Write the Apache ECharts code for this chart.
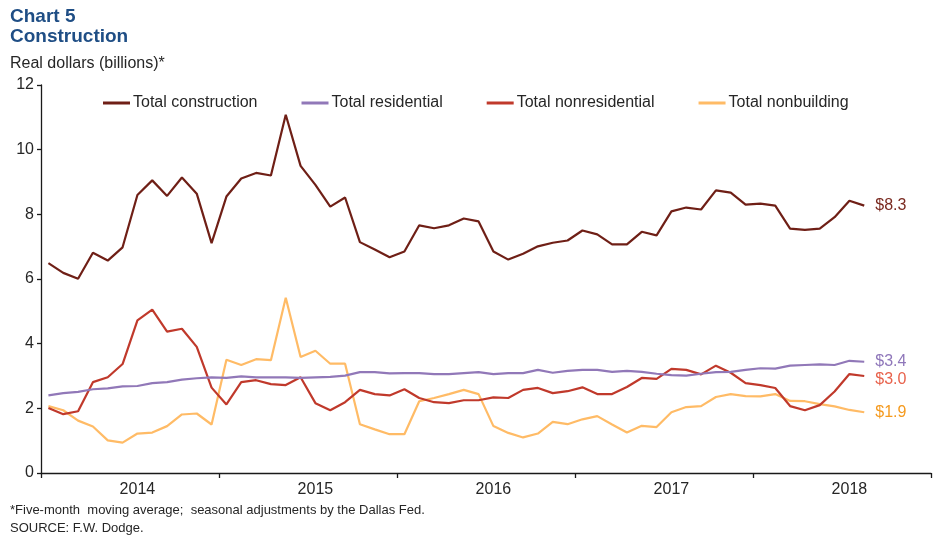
<!DOCTYPE html>
<html>
<head>
<meta charset="utf-8">
<script src="https://cdn.jsdelivr.net/npm/echarts@6/dist/echarts.min.js"></script>
<style>
html,body{margin:0;padding:0;background:#fff;}
#chart{width:949px;height:541px;}
</style>
</head>
<body>
<div id="chart"></div>
<script>
// Monthly slots (5 years x 12 months); data covers the first 56
const years = [2014, 2015, 2016, 2017, 2018];
const months = [];
years.forEach(y => { for (let m = 1; m <= 12; m++) months.push(y + '-' + (m < 10 ? '0' + m : m)); });

const totalConstruction = [6.49,6.19,6.01,6.81,6.57,6.98,8.60,9.05,8.57,9.14,8.64,7.11,8.55,9.11,9.28,9.20,11.08,9.50,
  8.91,8.24,8.52,7.14,6.91,6.67,6.85,7.66,7.57,7.66,7.87,7.78,6.85,6.60,6.78,7.01,7.12,7.19,7.50,7.38,7.07,
  7.07,7.46,7.35,8.09,8.21,8.15,8.74,8.67,8.30,8.33,8.27,7.56,7.52,7.56,7.91,8.42,8.27];
const totalResidential = [2.40,2.47,2.51,2.59,2.62,2.68,2.69,2.78,2.81,2.89,2.93,2.96,2.94,2.99,2.96,2.96,2.96,2.94,
  2.96,2.97,3.01,3.12,3.12,3.08,3.09,3.09,3.06,3.06,3.09,3.12,3.06,3.09,3.09,3.19,3.10,3.16,3.19,3.19,3.13,
  3.16,3.13,3.07,3.03,3.01,3.07,3.12,3.13,3.19,3.24,3.23,3.32,3.34,3.36,3.34,3.47,3.44];
const totalNonresidential = [2.01,1.82,1.91,2.81,2.96,3.37,4.72,5.05,4.37,4.46,3.90,2.64,2.12,2.81,2.87,2.75,2.72,2.96,
  2.16,1.94,2.19,2.57,2.44,2.40,2.59,2.32,2.19,2.16,2.25,2.25,2.34,2.32,2.57,2.63,2.47,2.53,2.65,2.44,2.44,
  2.66,2.94,2.91,3.22,3.19,3.05,3.32,3.10,2.78,2.72,2.63,2.07,1.94,2.10,2.52,3.06,3.00];
const totalNonbuilding = [2.07,1.94,1.62,1.44,1.01,0.94,1.22,1.25,1.45,1.81,1.84,1.50,3.50,3.34,3.52,3.49,5.42,3.59,
  3.78,3.38,3.38,1.51,1.35,1.20,1.20,2.22,2.32,2.44,2.57,2.44,1.45,1.24,1.10,1.22,1.58,1.51,1.66,1.76,1.50,
  1.25,1.46,1.42,1.88,2.04,2.07,2.35,2.44,2.38,2.37,2.44,2.23,2.22,2.13,2.06,1.95,1.88];

const seriesNames = ['Total construction','Total residential','Total nonresidential','Total nonbuilding'];
const endLabels = ['$8.3','$3.4','$3.0','$1.9'];
const yTicks = [0, 2, 4, 6, 8, 10, 12];

const lineColors = ['#6f1f16', '#9178b8', '#c0392b', '#ffbb66'];
const labelColors = ['#7a2a20', '#8f77ba', '#e8624c', '#f59a1e'];
const labelOffsets = [[0,0],[0,0],[0,4],[0,0]];
const FONT = '"Liberation Sans", Arial, sans-serif';

const chart = echarts.init(document.getElementById('chart'), null, {renderer: 'canvas'});
const dataSets = [totalConstruction, totalResidential, totalNonresidential, totalNonbuilding];

chart.setOption({
  animation: false,
  backgroundColor: '#ffffff',
  textStyle: {fontFamily: FONT},
  title: [
    {text: 'Chart 5\nConstruction', left: 10, top: 7, padding: 0,
     textStyle: {fontFamily: FONT, fontSize: 19, fontWeight: 'bold', color: '#1f4e85', lineHeight: 20}},
    {text: 'Real dollars (billions)*', left: 10, top: 56, padding: 0,
     textStyle: {fontFamily: FONT, fontSize: 16, fontWeight: 'normal', color: '#262626', lineHeight: 16}},
    {text: '*Five-month  moving average;  seasonal adjustments by the Dallas Fed.\nSOURCE: F.W. Dodge.', left: 10, top: 501, padding: 0,
     textStyle: {fontFamily: FONT, fontSize: 13, fontWeight: 'normal', color: '#262626', lineHeight: 18}}
  ],
  legend: {
    data: seriesNames,
    left: 103, top: 95, padding: 0,
    itemWidth: 27, itemHeight: 3, itemGap: 44,
    icon: 'rect',
    textStyle: {fontFamily: FONT, fontSize: 16, color: '#262626', padding: [0,0,0,-2], lineHeight: 16}
  },
  grid: {left: 41, right: 18, top: 85, bottom: 68, containLabel: false},
  xAxis: {
    type: 'category',
    data: months,
    boundaryGap: true,
    axisLine: {lineStyle: {color: '#1a1a1a', width: 1.3}},
    axisTick: {show: true, length: 5, lineStyle: {color: '#1a1a1a', width: 1.3},
               interval: (i) => i % 12 === 0},
    axisLabel: {fontFamily: FONT, fontSize: 16, color: '#262626', margin: 9,
                interval: (i) => i % 12 === 6,
                formatter: (v) => v.slice(0, 4)},
    splitLine: {show: false}
  },
  yAxis: {
    type: 'value',
    min: yTicks[0], max: yTicks[yTicks.length - 1], interval: 2,
    axisLine: {show: true, lineStyle: {color: '#1a1a1a', width: 1.3}},
    axisTick: {show: true, length: 4, lineStyle: {color: '#1a1a1a', width: 1.3}},
    axisLabel: {fontFamily: FONT, fontSize: 16, color: '#262626', margin: 7},
    splitLine: {show: false}
  },
  series: seriesNames.map((name, k) => ({
    name: name,
    type: 'line',
    data: dataSets[k],
    symbol: 'none',
    lineStyle: {color: lineColors[k], width: 2.2},
    itemStyle: {color: lineColors[k]},
    z: 10 - k,
    endLabel: {
      show: true,
      formatter: () => endLabels[k],
      fontFamily: FONT, fontSize: 16, color: labelColors[k],
      distance: 11,
      offset: labelOffsets[k]
    }
  }))
});
</script>
</body>
</html>
